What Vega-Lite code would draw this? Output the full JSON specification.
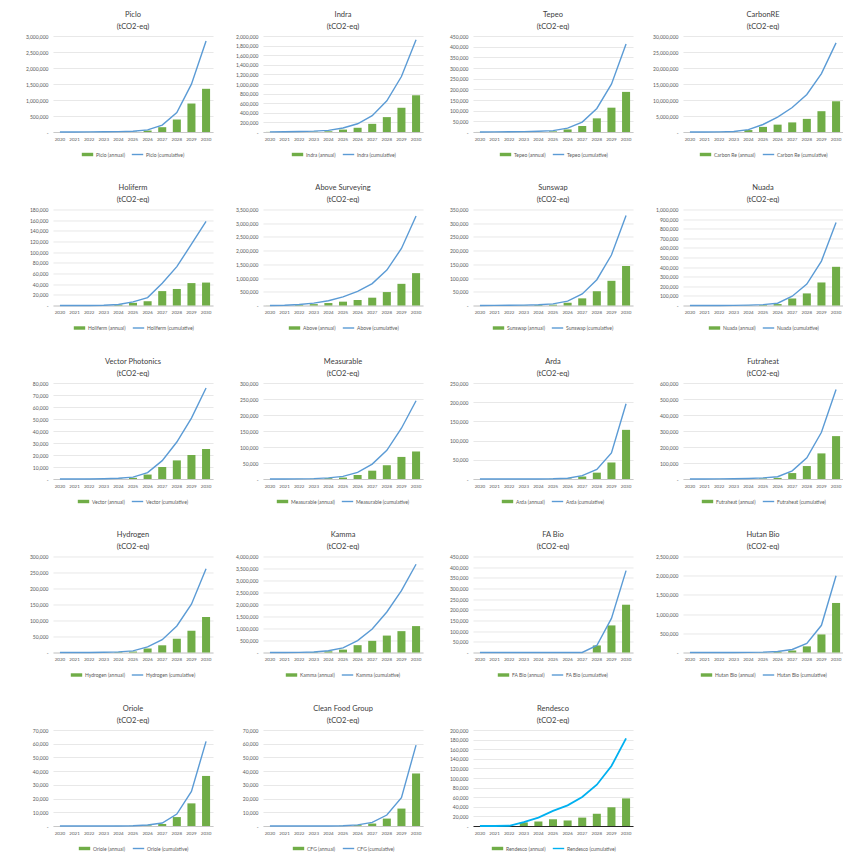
{
  "$schema": "https://vega.github.io/schema/vega-lite/v6.json",
  "padding": {"left": 21, "top": 10, "right": 0, "bottom": 0},
  "background": "white",
  "data": {"name": "d"},
  "datasets": {
    "d": [
      {"c":"Piclo","yr":"2020","a":500,"cu":500},{"c":"Piclo","yr":"2021","a":1000,"cu":1500},{"c":"Piclo","yr":"2022","a":2000,"cu":3500},{"c":"Piclo","yr":"2023","a":3000,"cu":6500},{"c":"Piclo","yr":"2024","a":5000,"cu":11500},{"c":"Piclo","yr":"2025","a":10000,"cu":21500},{"c":"Piclo","yr":"2026","a":45000,"cu":66500},{"c":"Piclo","yr":"2027","a":150000,"cu":216500},{"c":"Piclo","yr":"2028","a":390000,"cu":606500},{"c":"Piclo","yr":"2029","a":890000,"cu":1496500},{"c":"Piclo","yr":"2030","a":1350000,"cu":2846500},
      {"c":"Indra","yr":"2020","a":2000,"cu":2000},{"c":"Indra","yr":"2021","a":3000,"cu":5000},{"c":"Indra","yr":"2022","a":5000,"cu":10000},{"c":"Indra","yr":"2023","a":8000,"cu":18000},{"c":"Indra","yr":"2024","a":15000,"cu":33000},{"c":"Indra","yr":"2025","a":50000,"cu":83000},{"c":"Indra","yr":"2026","a":88000,"cu":171000},{"c":"Indra","yr":"2027","a":170000,"cu":341000},{"c":"Indra","yr":"2028","a":310000,"cu":651000},{"c":"Indra","yr":"2029","a":505000,"cu":1156000},{"c":"Indra","yr":"2030","a":765000,"cu":1921000},
      {"c":"Tepeo","yr":"2020","a":200,"cu":200},{"c":"Tepeo","yr":"2021","a":300,"cu":500},{"c":"Tepeo","yr":"2022","a":500,"cu":1000},{"c":"Tepeo","yr":"2023","a":800,"cu":1800},{"c":"Tepeo","yr":"2024","a":1500,"cu":3300},{"c":"Tepeo","yr":"2025","a":3000,"cu":6300},{"c":"Tepeo","yr":"2026","a":12000,"cu":18300},{"c":"Tepeo","yr":"2027","a":28000,"cu":46300},{"c":"Tepeo","yr":"2028","a":64000,"cu":110300},{"c":"Tepeo","yr":"2029","a":114000,"cu":224300},{"c":"Tepeo","yr":"2030","a":188000,"cu":412300},
      {"c":"CarbonRE","yr":"2020","a":5000,"cu":5000},{"c":"CarbonRE","yr":"2021","a":10000,"cu":15000},{"c":"CarbonRE","yr":"2022","a":30000,"cu":45000},{"c":"CarbonRE","yr":"2023","a":100000,"cu":145000},{"c":"CarbonRE","yr":"2024","a":600000,"cu":745000},{"c":"CarbonRE","yr":"2025","a":1600000,"cu":2345000},{"c":"CarbonRE","yr":"2026","a":2300000,"cu":4645000},{"c":"CarbonRE","yr":"2027","a":3000000,"cu":7645000},{"c":"CarbonRE","yr":"2028","a":4100000,"cu":11745000},{"c":"CarbonRE","yr":"2029","a":6500000,"cu":18245000},{"c":"CarbonRE","yr":"2030","a":9600000,"cu":27845000},
      {"c":"Holiferm","yr":"2020","a":0,"cu":0},{"c":"Holiferm","yr":"2021","a":0,"cu":0},{"c":"Holiferm","yr":"2022","a":100,"cu":100},{"c":"Holiferm","yr":"2023","a":300,"cu":400},{"c":"Holiferm","yr":"2024","a":1500,"cu":1900},{"c":"Holiferm","yr":"2025","a":5000,"cu":6900},{"c":"Holiferm","yr":"2026","a":8000,"cu":14900},{"c":"Holiferm","yr":"2027","a":27000,"cu":41900},{"c":"Holiferm","yr":"2028","a":31000,"cu":72900},{"c":"Holiferm","yr":"2029","a":42000,"cu":114900},{"c":"Holiferm","yr":"2030","a":43000,"cu":157900},
      {"c":"Above","yr":"2020","a":2000,"cu":2000},{"c":"Above","yr":"2021","a":8000,"cu":10000},{"c":"Above","yr":"2022","a":25000,"cu":35000},{"c":"Above","yr":"2023","a":50000,"cu":85000},{"c":"Above","yr":"2024","a":90000,"cu":175000},{"c":"Above","yr":"2025","a":140000,"cu":315000},{"c":"Above","yr":"2026","a":200000,"cu":515000},{"c":"Above","yr":"2027","a":285000,"cu":800000},{"c":"Above","yr":"2028","a":490000,"cu":1290000},{"c":"Above","yr":"2029","a":790000,"cu":2080000},{"c":"Above","yr":"2030","a":1180000,"cu":3260000},
      {"c":"Sunswap","yr":"2020","a":100,"cu":100},{"c":"Sunswap","yr":"2021","a":200,"cu":300},{"c":"Sunswap","yr":"2022","a":400,"cu":700},{"c":"Sunswap","yr":"2023","a":800,"cu":1500},{"c":"Sunswap","yr":"2024","a":1500,"cu":3000},{"c":"Sunswap","yr":"2025","a":3000,"cu":6000},{"c":"Sunswap","yr":"2026","a":10000,"cu":16000},{"c":"Sunswap","yr":"2027","a":26000,"cu":42000},{"c":"Sunswap","yr":"2028","a":52000,"cu":94000},{"c":"Sunswap","yr":"2029","a":90000,"cu":184000},{"c":"Sunswap","yr":"2030","a":144000,"cu":328000},
      {"c":"Nuada","yr":"2020","a":0,"cu":0},{"c":"Nuada","yr":"2021","a":200,"cu":200},{"c":"Nuada","yr":"2022","a":500,"cu":700},{"c":"Nuada","yr":"2023","a":1000,"cu":1700},{"c":"Nuada","yr":"2024","a":2000,"cu":3700},{"c":"Nuada","yr":"2025","a":5000,"cu":8700},{"c":"Nuada","yr":"2026","a":15000,"cu":23700},{"c":"Nuada","yr":"2027","a":73000,"cu":96700},{"c":"Nuada","yr":"2028","a":126000,"cu":222700},{"c":"Nuada","yr":"2029","a":240000,"cu":462700},{"c":"Nuada","yr":"2030","a":403000,"cu":865700},
      {"c":"Vector","yr":"2020","a":0,"cu":0},{"c":"Vector","yr":"2021","a":0,"cu":0},{"c":"Vector","yr":"2022","a":50,"cu":50},{"c":"Vector","yr":"2023","a":150,"cu":200},{"c":"Vector","yr":"2024","a":400,"cu":600},{"c":"Vector","yr":"2025","a":1000,"cu":1600},{"c":"Vector","yr":"2026","a":3700,"cu":5300},{"c":"Vector","yr":"2027","a":10000,"cu":15300},{"c":"Vector","yr":"2028","a":15500,"cu":30800},{"c":"Vector","yr":"2029","a":20000,"cu":50800},{"c":"Vector","yr":"2030","a":25000,"cu":75800},
      {"c":"Measurable","yr":"2020","a":0,"cu":0},{"c":"Measurable","yr":"2021","a":100,"cu":100},{"c":"Measurable","yr":"2022","a":300,"cu":400},{"c":"Measurable","yr":"2023","a":700,"cu":1100},{"c":"Measurable","yr":"2024","a":2500,"cu":3600},{"c":"Measurable","yr":"2025","a":4500,"cu":8100},{"c":"Measurable","yr":"2026","a":12500,"cu":20600},{"c":"Measurable","yr":"2027","a":26000,"cu":46600},{"c":"Measurable","yr":"2028","a":43000,"cu":89600},{"c":"Measurable","yr":"2029","a":69000,"cu":158600},{"c":"Measurable","yr":"2030","a":86000,"cu":244600},
      {"c":"Arda","yr":"2020","a":0,"cu":0},{"c":"Arda","yr":"2021","a":0,"cu":0},{"c":"Arda","yr":"2022","a":0,"cu":0},{"c":"Arda","yr":"2023","a":0,"cu":0},{"c":"Arda","yr":"2024","a":100,"cu":100},{"c":"Arda","yr":"2025","a":500,"cu":600},{"c":"Arda","yr":"2026","a":1500,"cu":2100},{"c":"Arda","yr":"2027","a":6500,"cu":8600},{"c":"Arda","yr":"2028","a":16500,"cu":25100},{"c":"Arda","yr":"2029","a":43000,"cu":68100},{"c":"Arda","yr":"2030","a":128000,"cu":196100},
      {"c":"Futraheat","yr":"2020","a":0,"cu":0},{"c":"Futraheat","yr":"2021","a":0,"cu":0},{"c":"Futraheat","yr":"2022","a":500,"cu":500},{"c":"Futraheat","yr":"2023","a":1000,"cu":1500},{"c":"Futraheat","yr":"2024","a":2000,"cu":3500},{"c":"Futraheat","yr":"2025","a":3500,"cu":7000},{"c":"Futraheat","yr":"2026","a":7000,"cu":14000},{"c":"Futraheat","yr":"2027","a":37000,"cu":51000},{"c":"Futraheat","yr":"2028","a":81000,"cu":132000},{"c":"Futraheat","yr":"2029","a":160000,"cu":292000},{"c":"Futraheat","yr":"2030","a":268000,"cu":560000},
      {"c":"Hydrogen","yr":"2020","a":0,"cu":0},{"c":"Hydrogen","yr":"2021","a":0,"cu":0},{"c":"Hydrogen","yr":"2022","a":200,"cu":200},{"c":"Hydrogen","yr":"2023","a":500,"cu":700},{"c":"Hydrogen","yr":"2024","a":1300,"cu":2000},{"c":"Hydrogen","yr":"2025","a":3000,"cu":5000},{"c":"Hydrogen","yr":"2026","a":12500,"cu":17500},{"c":"Hydrogen","yr":"2027","a":22500,"cu":40000},{"c":"Hydrogen","yr":"2028","a":43000,"cu":83000},{"c":"Hydrogen","yr":"2029","a":68000,"cu":151000},{"c":"Hydrogen","yr":"2030","a":111000,"cu":262000},
      {"c":"Kamma","yr":"2020","a":0,"cu":0},{"c":"Kamma","yr":"2021","a":2000,"cu":2000},{"c":"Kamma","yr":"2022","a":5000,"cu":7000},{"c":"Kamma","yr":"2023","a":15000,"cu":22000},{"c":"Kamma","yr":"2024","a":50000,"cu":72000},{"c":"Kamma","yr":"2025","a":120000,"cu":192000},{"c":"Kamma","yr":"2026","a":305000,"cu":497000},{"c":"Kamma","yr":"2027","a":485000,"cu":982000},{"c":"Kamma","yr":"2028","a":705000,"cu":1687000},{"c":"Kamma","yr":"2029","a":890000,"cu":2577000},{"c":"Kamma","yr":"2030","a":1100000,"cu":3677000},
      {"c":"FA Bio","yr":"2020","a":0,"cu":0},{"c":"FA Bio","yr":"2021","a":0,"cu":0},{"c":"FA Bio","yr":"2022","a":0,"cu":0},{"c":"FA Bio","yr":"2023","a":0,"cu":0},{"c":"FA Bio","yr":"2024","a":0,"cu":0},{"c":"FA Bio","yr":"2025","a":0,"cu":0},{"c":"FA Bio","yr":"2026","a":0,"cu":0},{"c":"FA Bio","yr":"2027","a":0,"cu":0},{"c":"FA Bio","yr":"2028","a":33000,"cu":33000},{"c":"FA Bio","yr":"2029","a":127000,"cu":160000},{"c":"FA Bio","yr":"2030","a":224000,"cu":384000},
      {"c":"Hutan Bio","yr":"2020","a":0,"cu":0},{"c":"Hutan Bio","yr":"2021","a":0,"cu":0},{"c":"Hutan Bio","yr":"2022","a":0,"cu":0},{"c":"Hutan Bio","yr":"2023","a":1000,"cu":1000},{"c":"Hutan Bio","yr":"2024","a":3000,"cu":4000},{"c":"Hutan Bio","yr":"2025","a":6000,"cu":10000},{"c":"Hutan Bio","yr":"2026","a":16000,"cu":26000},{"c":"Hutan Bio","yr":"2027","a":52000,"cu":78000},{"c":"Hutan Bio","yr":"2028","a":160000,"cu":238000},{"c":"Hutan Bio","yr":"2029","a":470000,"cu":708000},{"c":"Hutan Bio","yr":"2030","a":1290000,"cu":1998000},
      {"c":"Oriole","yr":"2020","a":0,"cu":0},{"c":"Oriole","yr":"2021","a":0,"cu":0},{"c":"Oriole","yr":"2022","a":0,"cu":0},{"c":"Oriole","yr":"2023","a":0,"cu":0},{"c":"Oriole","yr":"2024","a":50,"cu":50},{"c":"Oriole","yr":"2025","a":150,"cu":200},{"c":"Oriole","yr":"2026","a":500,"cu":700},{"c":"Oriole","yr":"2027","a":1500,"cu":2200},{"c":"Oriole","yr":"2028","a":6500,"cu":8700},{"c":"Oriole","yr":"2029","a":16500,"cu":25200},{"c":"Oriole","yr":"2030","a":36500,"cu":61700},
      {"c":"CFG","yr":"2020","a":0,"cu":0},{"c":"CFG","yr":"2021","a":0,"cu":0},{"c":"CFG","yr":"2022","a":0,"cu":0},{"c":"CFG","yr":"2023","a":0,"cu":0},{"c":"CFG","yr":"2024","a":0,"cu":0},{"c":"CFG","yr":"2025","a":200,"cu":200},{"c":"CFG","yr":"2026","a":600,"cu":800},{"c":"CFG","yr":"2027","a":1800,"cu":2600},{"c":"CFG","yr":"2028","a":5400,"cu":8000},{"c":"CFG","yr":"2029","a":12700,"cu":20700},{"c":"CFG","yr":"2030","a":38300,"cu":59000},
      {"c":"Rendesco","yr":"2020","a":0,"cu":0},{"c":"Rendesco","yr":"2021","a":0,"cu":0},{"c":"Rendesco","yr":"2022","a":500,"cu":500},{"c":"Rendesco","yr":"2023","a":7500,"cu":8000},{"c":"Rendesco","yr":"2024","a":9500,"cu":17500},{"c":"Rendesco","yr":"2025","a":14000,"cu":31500},{"c":"Rendesco","yr":"2026","a":11500,"cu":43000},{"c":"Rendesco","yr":"2027","a":17500,"cu":60500},{"c":"Rendesco","yr":"2028","a":25500,"cu":86000},{"c":"Rendesco","yr":"2029","a":39000,"cu":125000},{"c":"Rendesco","yr":"2030","a":57500,"cu":182500}
    ]
  },
  "columns": 4,
  "spacing": {"row": 25.5, "column": 18},
  "resolve": {"scale": {"x": "independent", "y": "independent", "fill": "independent", "stroke": "independent"}},
  "concat": [
    {"title": {"text": ["Piclo", "(tCO2-eq)"]}, "width": 160, "height": 96, "transform": [{"filter": "datum.c === 'Piclo'"}], "encoding": {"x": {"field": "yr", "type": "ordinal", "title": null}},
     "layer": [
      {"mark": "bar", "encoding": {"y": {"field": "a", "type": "quantitative", "title": null, "scale": {"domain": [0, 3000000], "nice": false}, "axis": {"tickCount": 6}}, "fill": {"datum": "Piclo (annual)", "title": null, "scale": {"range": ["#70AD47"]}, "legend": {"symbolType": "M-1,-0.3H1V0.3H-1Z"}}}},
      {"mark": "line", "encoding": {"y": {"field": "cu", "type": "quantitative", "title": null}, "stroke": {"datum": "Piclo (cumulative)", "title": null, "scale": {"range": ["#5B9BD5"]}, "legend": {"symbolType": "stroke"}}}}
     ]},
    {"title": {"text": ["Indra", "(tCO2-eq)"]}, "width": 160, "height": 96, "transform": [{"filter": "datum.c === 'Indra'"}], "encoding": {"x": {"field": "yr", "type": "ordinal", "title": null}},
     "layer": [
      {"mark": "bar", "encoding": {"y": {"field": "a", "type": "quantitative", "title": null, "scale": {"domain": [0, 2000000], "nice": false}, "axis": {"tickCount": 10}}, "fill": {"datum": "Indra (annual)", "title": null, "scale": {"range": ["#70AD47"]}, "legend": {"symbolType": "M-1,-0.3H1V0.3H-1Z"}}}},
      {"mark": "line", "encoding": {"y": {"field": "cu", "type": "quantitative", "title": null}, "stroke": {"datum": "Indra (cumulative)", "title": null, "scale": {"range": ["#5B9BD5"]}, "legend": {"symbolType": "stroke"}}}}
     ]},
    {"title": {"text": ["Tepeo", "(tCO2-eq)"]}, "width": 160, "height": 96, "transform": [{"filter": "datum.c === 'Tepeo'"}], "encoding": {"x": {"field": "yr", "type": "ordinal", "title": null}},
     "layer": [
      {"mark": "bar", "encoding": {"y": {"field": "a", "type": "quantitative", "title": null, "scale": {"domain": [0, 450000], "nice": false}, "axis": {"tickCount": 9}}, "fill": {"datum": "Tepeo (annual)", "title": null, "scale": {"range": ["#70AD47"]}, "legend": {"symbolType": "M-1,-0.3H1V0.3H-1Z"}}}},
      {"mark": "line", "encoding": {"y": {"field": "cu", "type": "quantitative", "title": null}, "stroke": {"datum": "Tepeo (cumulative)", "title": null, "scale": {"range": ["#5B9BD5"]}, "legend": {"symbolType": "stroke"}}}}
     ]},
    {"title": {"text": ["CarbonRE", "(tCO2-eq)"]}, "width": 160, "height": 96, "transform": [{"filter": "datum.c === 'CarbonRE'"}], "encoding": {"x": {"field": "yr", "type": "ordinal", "title": null}},
     "layer": [
      {"mark": "bar", "encoding": {"y": {"field": "a", "type": "quantitative", "title": null, "scale": {"domain": [0, 30000000], "nice": false}, "axis": {"tickCount": 6}}, "fill": {"datum": "Carbon Re (annual)", "title": null, "scale": {"range": ["#70AD47"]}, "legend": {"symbolType": "M-1,-0.3H1V0.3H-1Z"}}}},
      {"mark": "line", "encoding": {"y": {"field": "cu", "type": "quantitative", "title": null}, "stroke": {"datum": "Carbon Re (cumulative)", "title": null, "scale": {"range": ["#5B9BD5"]}, "legend": {"symbolType": "stroke"}}}}
     ]},
    {"title": {"text": ["Holiferm", "(tCO2-eq)"]}, "width": 160, "height": 96, "transform": [{"filter": "datum.c === 'Holiferm'"}], "encoding": {"x": {"field": "yr", "type": "ordinal", "title": null}},
     "layer": [
      {"mark": "bar", "encoding": {"y": {"field": "a", "type": "quantitative", "title": null, "scale": {"domain": [0, 180000], "nice": false}, "axis": {"tickCount": 9}}, "fill": {"datum": "Holiferm (annual)", "title": null, "scale": {"range": ["#70AD47"]}, "legend": {"symbolType": "M-1,-0.3H1V0.3H-1Z"}}}},
      {"mark": "line", "encoding": {"y": {"field": "cu", "type": "quantitative", "title": null}, "stroke": {"datum": "Holiferm (cumulative)", "title": null, "scale": {"range": ["#5B9BD5"]}, "legend": {"symbolType": "stroke"}}}}
     ]},
    {"title": {"text": ["Above Surveying", "(tCO2-eq)"]}, "width": 160, "height": 96, "transform": [{"filter": "datum.c === 'Above'"}], "encoding": {"x": {"field": "yr", "type": "ordinal", "title": null}},
     "layer": [
      {"mark": "bar", "encoding": {"y": {"field": "a", "type": "quantitative", "title": null, "scale": {"domain": [0, 3500000], "nice": false}, "axis": {"tickCount": 7}}, "fill": {"datum": "Above (annual)", "title": null, "scale": {"range": ["#70AD47"]}, "legend": {"symbolType": "M-1,-0.3H1V0.3H-1Z"}}}},
      {"mark": "line", "encoding": {"y": {"field": "cu", "type": "quantitative", "title": null}, "stroke": {"datum": "Above (cumulative)", "title": null, "scale": {"range": ["#5B9BD5"]}, "legend": {"symbolType": "stroke"}}}}
     ]},
    {"title": {"text": ["Sunswap", "(tCO2-eq)"]}, "width": 160, "height": 96, "transform": [{"filter": "datum.c === 'Sunswap'"}], "encoding": {"x": {"field": "yr", "type": "ordinal", "title": null}},
     "layer": [
      {"mark": "bar", "encoding": {"y": {"field": "a", "type": "quantitative", "title": null, "scale": {"domain": [0, 350000], "nice": false}, "axis": {"tickCount": 7}}, "fill": {"datum": "Sunswap (annual)", "title": null, "scale": {"range": ["#70AD47"]}, "legend": {"symbolType": "M-1,-0.3H1V0.3H-1Z"}}}},
      {"mark": "line", "encoding": {"y": {"field": "cu", "type": "quantitative", "title": null}, "stroke": {"datum": "Sunswap (cumulative)", "title": null, "scale": {"range": ["#5B9BD5"]}, "legend": {"symbolType": "stroke"}}}}
     ]},
    {"title": {"text": ["Nuada", "(tCO2-eq)"]}, "width": 160, "height": 96, "transform": [{"filter": "datum.c === 'Nuada'"}], "encoding": {"x": {"field": "yr", "type": "ordinal", "title": null}},
     "layer": [
      {"mark": "bar", "encoding": {"y": {"field": "a", "type": "quantitative", "title": null, "scale": {"domain": [0, 1000000], "nice": false}, "axis": {"tickCount": 10}}, "fill": {"datum": "Nuada (annual)", "title": null, "scale": {"range": ["#70AD47"]}, "legend": {"symbolType": "M-1,-0.3H1V0.3H-1Z"}}}},
      {"mark": "line", "encoding": {"y": {"field": "cu", "type": "quantitative", "title": null}, "stroke": {"datum": "Nuada (cumulative)", "title": null, "scale": {"range": ["#5B9BD5"]}, "legend": {"symbolType": "stroke"}}}}
     ]},
    {"title": {"text": ["Vector Photonics", "(tCO2-eq)"]}, "width": 160, "height": 96, "transform": [{"filter": "datum.c === 'Vector'"}], "encoding": {"x": {"field": "yr", "type": "ordinal", "title": null}},
     "layer": [
      {"mark": "bar", "encoding": {"y": {"field": "a", "type": "quantitative", "title": null, "scale": {"domain": [0, 80000], "nice": false}, "axis": {"tickCount": 8}}, "fill": {"datum": "Vector (annual)", "title": null, "scale": {"range": ["#70AD47"]}, "legend": {"symbolType": "M-1,-0.3H1V0.3H-1Z"}}}},
      {"mark": "line", "encoding": {"y": {"field": "cu", "type": "quantitative", "title": null}, "stroke": {"datum": "Vector (cumulative)", "title": null, "scale": {"range": ["#5B9BD5"]}, "legend": {"symbolType": "stroke"}}}}
     ]},
    {"title": {"text": ["Measurable", "(tCO2-eq)"]}, "width": 160, "height": 96, "transform": [{"filter": "datum.c === 'Measurable'"}], "encoding": {"x": {"field": "yr", "type": "ordinal", "title": null}},
     "layer": [
      {"mark": "bar", "encoding": {"y": {"field": "a", "type": "quantitative", "title": null, "scale": {"domain": [0, 300000], "nice": false}, "axis": {"tickCount": 6}}, "fill": {"datum": "Measurable (annual)", "title": null, "scale": {"range": ["#70AD47"]}, "legend": {"symbolType": "M-1,-0.3H1V0.3H-1Z"}}}},
      {"mark": "line", "encoding": {"y": {"field": "cu", "type": "quantitative", "title": null}, "stroke": {"datum": "Measurable (cumulative)", "title": null, "scale": {"range": ["#5B9BD5"]}, "legend": {"symbolType": "stroke"}}}}
     ]},
    {"title": {"text": ["Arda", "(tCO2-eq)"]}, "width": 160, "height": 96, "transform": [{"filter": "datum.c === 'Arda'"}], "encoding": {"x": {"field": "yr", "type": "ordinal", "title": null}},
     "layer": [
      {"mark": "bar", "encoding": {"y": {"field": "a", "type": "quantitative", "title": null, "scale": {"domain": [0, 250000], "nice": false}, "axis": {"tickCount": 5}}, "fill": {"datum": "Arda (annual)", "title": null, "scale": {"range": ["#70AD47"]}, "legend": {"symbolType": "M-1,-0.3H1V0.3H-1Z"}}}},
      {"mark": "line", "encoding": {"y": {"field": "cu", "type": "quantitative", "title": null}, "stroke": {"datum": "Arda (cumulative)", "title": null, "scale": {"range": ["#5B9BD5"]}, "legend": {"symbolType": "stroke"}}}}
     ]},
    {"title": {"text": ["Futraheat", "(tCO2-eq)"]}, "width": 160, "height": 96, "transform": [{"filter": "datum.c === 'Futraheat'"}], "encoding": {"x": {"field": "yr", "type": "ordinal", "title": null}},
     "layer": [
      {"mark": "bar", "encoding": {"y": {"field": "a", "type": "quantitative", "title": null, "scale": {"domain": [0, 600000], "nice": false}, "axis": {"tickCount": 6}}, "fill": {"datum": "Futraheat (annual)", "title": null, "scale": {"range": ["#70AD47"]}, "legend": {"symbolType": "M-1,-0.3H1V0.3H-1Z"}}}},
      {"mark": "line", "encoding": {"y": {"field": "cu", "type": "quantitative", "title": null}, "stroke": {"datum": "Futraheat (cumulative)", "title": null, "scale": {"range": ["#5B9BD5"]}, "legend": {"symbolType": "stroke"}}}}
     ]},
    {"title": {"text": ["Hydrogen", "(tCO2-eq)"]}, "width": 160, "height": 96, "transform": [{"filter": "datum.c === 'Hydrogen'"}], "encoding": {"x": {"field": "yr", "type": "ordinal", "title": null}},
     "layer": [
      {"mark": "bar", "encoding": {"y": {"field": "a", "type": "quantitative", "title": null, "scale": {"domain": [0, 300000], "nice": false}, "axis": {"tickCount": 6}}, "fill": {"datum": "Hydrogen (annual)", "title": null, "scale": {"range": ["#70AD47"]}, "legend": {"symbolType": "M-1,-0.3H1V0.3H-1Z"}}}},
      {"mark": "line", "encoding": {"y": {"field": "cu", "type": "quantitative", "title": null}, "stroke": {"datum": "Hydrogen (cumulative)", "title": null, "scale": {"range": ["#5B9BD5"]}, "legend": {"symbolType": "stroke"}}}}
     ]},
    {"title": {"text": ["Kamma", "(tCO2-eq)"]}, "width": 160, "height": 96, "transform": [{"filter": "datum.c === 'Kamma'"}], "encoding": {"x": {"field": "yr", "type": "ordinal", "title": null}},
     "layer": [
      {"mark": "bar", "encoding": {"y": {"field": "a", "type": "quantitative", "title": null, "scale": {"domain": [0, 4000000], "nice": false}, "axis": {"tickCount": 8}}, "fill": {"datum": "Kamma (annual)", "title": null, "scale": {"range": ["#70AD47"]}, "legend": {"symbolType": "M-1,-0.3H1V0.3H-1Z"}}}},
      {"mark": "line", "encoding": {"y": {"field": "cu", "type": "quantitative", "title": null}, "stroke": {"datum": "Kamma (cumulative)", "title": null, "scale": {"range": ["#5B9BD5"]}, "legend": {"symbolType": "stroke"}}}}
     ]},
    {"title": {"text": ["FA Bio", "(tCO2-eq)"]}, "width": 160, "height": 96, "transform": [{"filter": "datum.c === 'FA Bio'"}], "encoding": {"x": {"field": "yr", "type": "ordinal", "title": null}},
     "layer": [
      {"mark": "bar", "encoding": {"y": {"field": "a", "type": "quantitative", "title": null, "scale": {"domain": [0, 450000], "nice": false}, "axis": {"tickCount": 9}}, "fill": {"datum": "FA Bio (annual)", "title": null, "scale": {"range": ["#70AD47"]}, "legend": {"symbolType": "M-1,-0.3H1V0.3H-1Z"}}}},
      {"mark": "line", "encoding": {"y": {"field": "cu", "type": "quantitative", "title": null}, "stroke": {"datum": "FA Bio (cumulative)", "title": null, "scale": {"range": ["#5B9BD5"]}, "legend": {"symbolType": "stroke"}}}}
     ]},
    {"title": {"text": ["Hutan Bio", "(tCO2-eq)"]}, "width": 160, "height": 96, "transform": [{"filter": "datum.c === 'Hutan Bio'"}], "encoding": {"x": {"field": "yr", "type": "ordinal", "title": null}},
     "layer": [
      {"mark": "bar", "encoding": {"y": {"field": "a", "type": "quantitative", "title": null, "scale": {"domain": [0, 2500000], "nice": false}, "axis": {"tickCount": 5}}, "fill": {"datum": "Hutan Bio (annual)", "title": null, "scale": {"range": ["#70AD47"]}, "legend": {"symbolType": "M-1,-0.3H1V0.3H-1Z"}}}},
      {"mark": "line", "encoding": {"y": {"field": "cu", "type": "quantitative", "title": null}, "stroke": {"datum": "Hutan Bio (cumulative)", "title": null, "scale": {"range": ["#5B9BD5"]}, "legend": {"symbolType": "stroke"}}}}
     ]},
    {"title": {"text": ["Oriole", "(tCO2-eq)"]}, "width": 160, "height": 96, "transform": [{"filter": "datum.c === 'Oriole'"}], "encoding": {"x": {"field": "yr", "type": "ordinal", "title": null}},
     "layer": [
      {"mark": "bar", "encoding": {"y": {"field": "a", "type": "quantitative", "title": null, "scale": {"domain": [0, 70000], "nice": false}, "axis": {"tickCount": 7}}, "fill": {"datum": "Oriole (annual)", "title": null, "scale": {"range": ["#70AD47"]}, "legend": {"symbolType": "M-1,-0.3H1V0.3H-1Z"}}}},
      {"mark": "line", "encoding": {"y": {"field": "cu", "type": "quantitative", "title": null}, "stroke": {"datum": "Oriole (cumulative)", "title": null, "scale": {"range": ["#5B9BD5"]}, "legend": {"symbolType": "stroke"}}}}
     ]},
    {"title": {"text": ["Clean Food Group", "(tCO2-eq)"]}, "width": 160, "height": 96, "transform": [{"filter": "datum.c === 'CFG'"}], "encoding": {"x": {"field": "yr", "type": "ordinal", "title": null}},
     "layer": [
      {"mark": "bar", "encoding": {"y": {"field": "a", "type": "quantitative", "title": null, "scale": {"domain": [0, 70000], "nice": false}, "axis": {"tickCount": 7}}, "fill": {"datum": "CFG (annual)", "title": null, "scale": {"range": ["#70AD47"]}, "legend": {"symbolType": "M-1,-0.3H1V0.3H-1Z"}}}},
      {"mark": "line", "encoding": {"y": {"field": "cu", "type": "quantitative", "title": null}, "stroke": {"datum": "CFG (cumulative)", "title": null, "scale": {"range": ["#5B9BD5"]}, "legend": {"symbolType": "stroke"}}}}
     ]},
    {"title": {"text": ["Rendesco", "(tCO2-eq)"]}, "width": 160, "height": 96, "transform": [{"filter": "datum.c === 'Rendesco'"}], "encoding": {"x": {"field": "yr", "type": "ordinal", "title": null, "axis": {"domainColor": "#262626", "domainWidth": 1.2}}},
     "layer": [
      {"mark": "bar", "encoding": {"y": {"field": "a", "type": "quantitative", "title": null, "scale": {"domain": [0, 200000], "nice": false}, "axis": {"tickCount": 10}}, "fill": {"datum": "Rendesco (annual)", "title": null, "scale": {"range": ["#70AD47"]}, "legend": {"symbolType": "M-1,-0.3H1V0.3H-1Z"}}}},
      {"mark": {"type": "line", "strokeWidth": 1.8}, "encoding": {"y": {"field": "cu", "type": "quantitative", "title": null}, "stroke": {"datum": "Rendesco (cumulative)", "title": null, "scale": {"range": ["#00B0F0"]}, "legend": {"symbolType": "stroke"}}}}
     ]}
  ],
  "config": {
    "font": "Lato",
    "view": {"stroke": null},
    "scale": {"bandPaddingInner": 0.45, "bandPaddingOuter": 0.2},
    "axis": {"labelFont": "Lato", "labelColor": "#595959", "labelFontSize": 4.5, "ticks": false},
    "axisX": {"labelAngle": 0, "domainColor": "#BFBFBF", "domainWidth": 0.8, "grid": false, "labelPadding": 4},
    "axisY": {"domain": false, "gridColor": "#D9D9D9", "gridWidth": 0.6, "labelPadding": 5, "labelFontSize": 5, "minExtent": 32, "maxExtent": 32, "labelExpr": "datum.value == 0 ? '-' : format(datum.value, ',')"},
    "title": {"fontSize": 7.5, "fontWeight": "normal", "color": "#404040", "lineHeight": 12, "offset": 4, "font": "Lato"},
    "legend": {"orient": "bottom", "labelFontSize": 5, "labelColor": "#595959", "labelFont": "Lato", "symbolSize": 130, "symbolStrokeWidth": 1.4, "labelOffset": 2, "offset": 7, "padding": 0, "layout": {"bottom": {"anchor": "middle", "margin": 6}}},
    "line": {"strokeWidth": 1.4}
  }
}
